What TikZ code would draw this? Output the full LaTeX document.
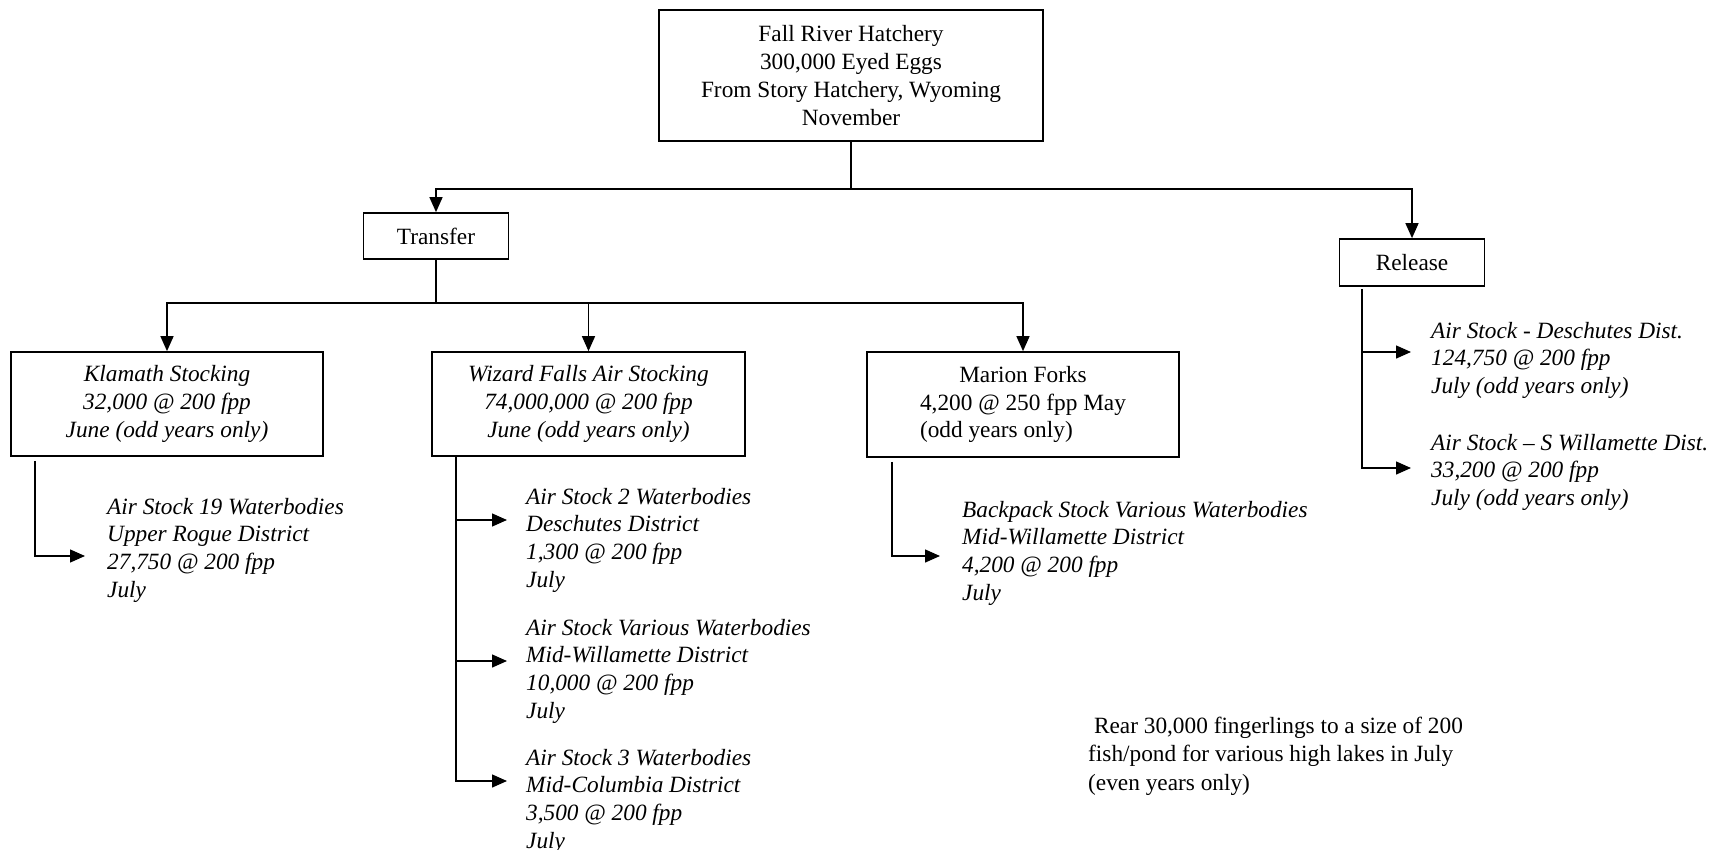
\documentclass[tikz,border=0pt]{standalone}
\usepackage{fontspec}
\setmainfont{Liberation Serif}
\usetikzlibrary{arrows.meta}
\begin{document}
\begin{tikzpicture}[x=1pt,y=-1pt,
  every node/.style={font=\fontsize{23.3}{27.7}\selectfont, inner sep=0pt},
  it/.style={font=\fontsize{23.3}{27.7}\selectfont\itshape},
  box/.style={draw, line width=1.7pt, align=center},
  conn/.style={line width=1.4pt},
  arr/.style={conn, -{Triangle[length=15pt,width=13pt]}},
  sub/.style={anchor=base west, it}]
\useasboundingbox (0,0) rectangle (1715,850);

% boxes
\node[box, minimum width=384pt, minimum height=131pt] (top) at (851,75.5)
  {Fall River Hatchery\\300,000 Eyed Eggs\\From Story Hatchery, Wyoming\\November};
\node[box, minimum width=145pt, minimum height=46pt] (transfer) at (436,236) {Transfer};
\node[box, minimum width=145pt, minimum height=47pt] (release) at (1412,262.5) {Release};
\node[box, it, minimum width=312pt, minimum height=104pt] (klamath) at (167,404)
  {Klamath Stocking\\32,000 @ 200 fpp\\June (odd years only)};
\node[box, it, minimum width=313pt, minimum height=104pt] (wizard) at (588.5,404)
  {Wizard Falls Air Stocking\\74,000,000 @ 200 fpp\\June (odd years only)};
\node[box, minimum width=312pt, minimum height=105pt] (marion) at (1023,404.5)
  {\begin{tabular}{@{}l@{}}\multicolumn{1}{@{}c@{}}{Marion Forks}\\4,200 @ 250 fpp May\\(odd years only)\end{tabular}};

% main connectors
\coordinate (j1) at (851,189);
\draw[conn] (top.south) -- (j1);
\draw[arr] (j1) -| (transfer.north);
\draw[arr] (j1) -| (release.north);
\coordinate (j2) at (436,303);
\draw[conn] (transfer.south) -- (j2);
\draw[arr] (j2) -| (klamath.north);
\draw[arr] (j2) -| (wizard.north);
\draw[arr] (j2) -| (marion.north);

% sub texts
\node[sub] (ks) at (107,514) {\begin{tabular}[t]{@{}l@{}}Air Stock 19 Waterbodies\\Upper Rogue District\\27,750 @ 200 fpp\\July\end{tabular}};
\node[sub] (ws1) at (526,504) {\begin{tabular}[t]{@{}l@{}}Air Stock 2 Waterbodies\\Deschutes District\\1,300 @ 200 fpp\\July\end{tabular}};
\node[sub] (ws2) at (526,635) {\begin{tabular}[t]{@{}l@{}}Air Stock Various Waterbodies\\Mid-Willamette District\\10,000 @ 200 fpp\\July\end{tabular}};
\node[sub] (ws3) at (526,765) {\begin{tabular}[t]{@{}l@{}}Air Stock 3 Waterbodies\\Mid-Columbia District\\3,500 @ 200 fpp\\July\end{tabular}};
\node[sub] (ms) at (962,517) {\begin{tabular}[t]{@{}l@{}}Backpack Stock Various Waterbodies\\Mid-Willamette District\\4,200 @ 200 fpp\\July\end{tabular}};
\node[sub] (rs1) at (1431,338) {\begin{tabular}[t]{@{}l@{}}Air Stock - Deschutes Dist.\\124,750 @ 200 fpp\\July (odd years only)\end{tabular}};
\node[sub] (rs2) at (1431,450) {\begin{tabular}[t]{@{}l@{}}Air Stock -- S Willamette Dist.\\33,200 @ 200 fpp\\July (odd years only)\end{tabular}};
\node[anchor=base west, font=\fontsize{23.3}{28.5}\selectfont] (note) at (1088,733)
  {\begin{tabular}[t]{@{}l@{}}\hspace*{0.25em}Rear 30,000 fingerlings to a size of 200\\fish/pond for various high lakes in July\\(even years only)\end{tabular}};

% sub connectors
\coordinate (ka) at (85,556);
\draw[arr] ([xshift=25pt,yshift=-4pt]klamath.south west) |- (ka);

\coordinate (wv1) at (457,520);
\coordinate (wv2) at (457,661);
\coordinate (wa1) at (507,520);
\coordinate (wa2) at (507,661);
\coordinate (wa3) at (507,781);
\draw[arr] ([xshift=25pt]wizard.south west) |- (wa3);
\draw[arr] (wv1) -- (wa1);
\draw[arr] (wv2) -- (wa2);

\coordinate (ma) at (940,556);
\draw[arr] ([xshift=26pt,yshift=-4pt]marion.south west) |- (ma);

\coordinate (rv1) at (1363,352);
\coordinate (ra1) at (1411,352);
\coordinate (ra2) at (1411,468);
\draw[arr] ([xshift=23.5pt,yshift=-2pt]release.south west) |- (ra2);
\draw[arr] (rv1) -- (ra1);
\end{tikzpicture}
\end{document}
